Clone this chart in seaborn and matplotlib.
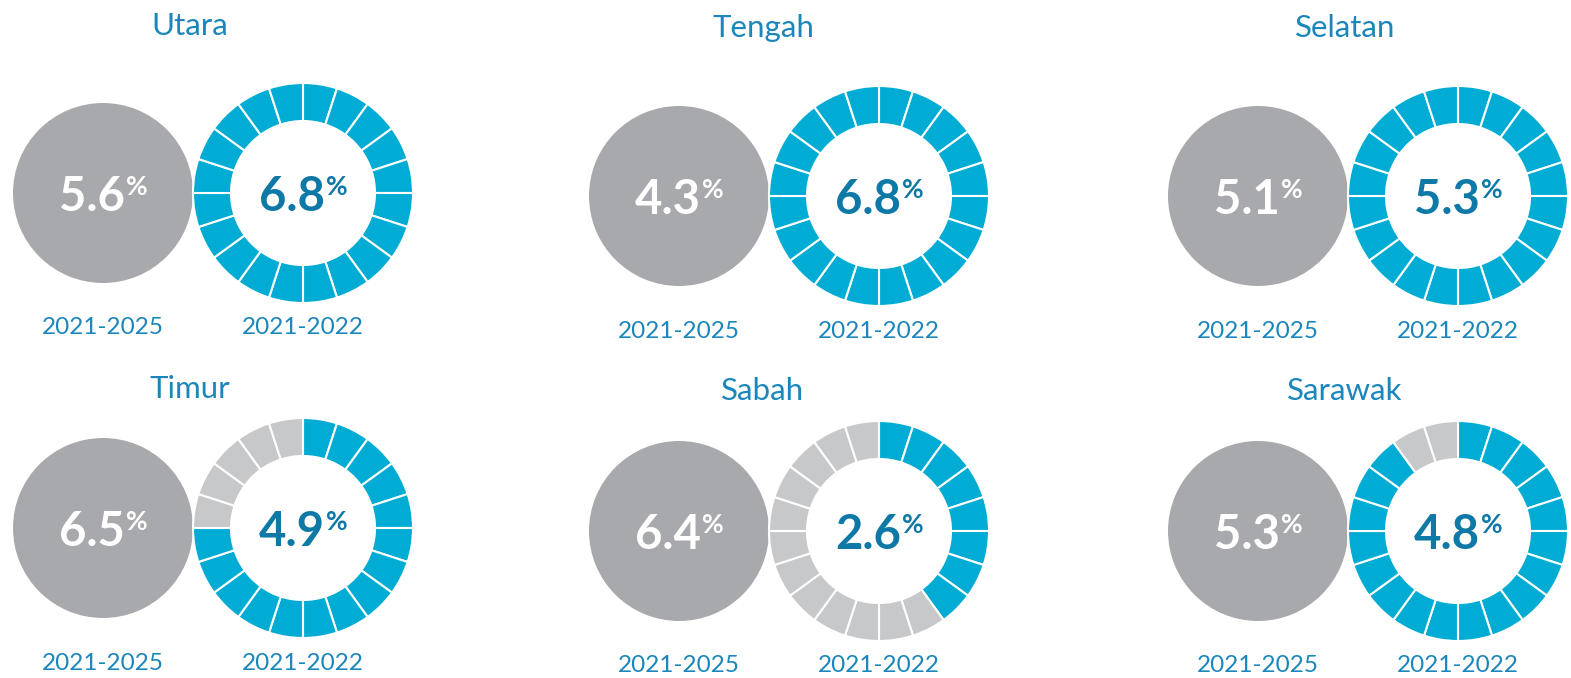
import matplotlib
matplotlib.use("Agg")
import matplotlib.pyplot as plt
import seaborn as sns

# data: growth target (2021-2025) vs actual (2021-2022), %
regions = ['Utara', 'Tengah', 'Selatan', 'Timur', 'Sabah', 'Sarawak']
target = [5.6, 4.3, 5.1, 6.5, 6.4, 5.3]
actual = [6.8, 6.8, 5.3, 4.9, 2.6, 4.8]
target_label = '2021-2025'
actual_label = '2021-2022'
n_seg = 20

sns.set_theme(style='white')
plt.rcParams['font.family'] = ['Lato', 'DejaVu Sans']

BLUE = '#00acd3'
LIGHT = '#c7c8ca'
GREY = '#a8a9ac'
TXT = '#1a86bb'
NUM = '#0e78a6'

W, H = 1571, 678
fig = plt.figure(figsize=(W / 100, H / 100), dpi=100)
ax = fig.add_axes([0, 0, 1, 1])

col_x = [103, 679, 1258]
title_x = [190, 763, 1345]
row_y = [196, 531]
title_y = [28, 391]


def pct_text(x, y, val, color):
    t = ax.text(x - 11, y, f'{val:.1f}', ha='center', va='center_baseline',
                fontsize=34, fontweight='bold', color=color)
    ax.annotate('%', xy=(1.02, 1.0), xycoords=t, ha='left', va='top',
                fontsize=19, fontweight='bold', color=color)


for i, name in enumerate(regions):
    r, c = divmod(i, 3)
    dy = -3 if c == 0 else 0
    gx = col_x[c]
    cy = H - (row_y[r] + dy)
    dx = gx + 200

    # target circle
    ax.pie([1], colors=[GREY], radius=90, center=(gx, cy),
           wedgeprops=dict(linewidth=0))
    pct_text(gx, cy, target[i], 'white')

    # actual progress ring
    filled = min(n_seg, round(n_seg * actual[i] / target[i]))
    cols = [BLUE] * filled + [LIGHT] * (n_seg - filled)
    ax.pie([1] * n_seg, colors=cols, radius=110, center=(dx, cy),
           startangle=90, counterclock=False,
           wedgeprops=dict(width=38, edgecolor='white', linewidth=1.5))
    pct_text(dx, cy, actual[i], NUM)

    ax.text(title_x[c], H - (title_y[r] + dy * 0.6), name, ha='center', va='center',
            fontsize=22.5, color=TXT)
    ly = H - (row_y[r] + dy + 135)
    ax.text(gx, ly, target_label, ha='center', va='center', fontsize=17.5, color=TXT)
    ax.text(dx, ly, actual_label, ha='center', va='center', fontsize=17.5, color=TXT)

ax.set_xlim(0, W)
ax.set_ylim(0, H)
ax.set_aspect('equal')
ax.axis('off')

fig.savefig('out.png', dpi=100, facecolor='white')
